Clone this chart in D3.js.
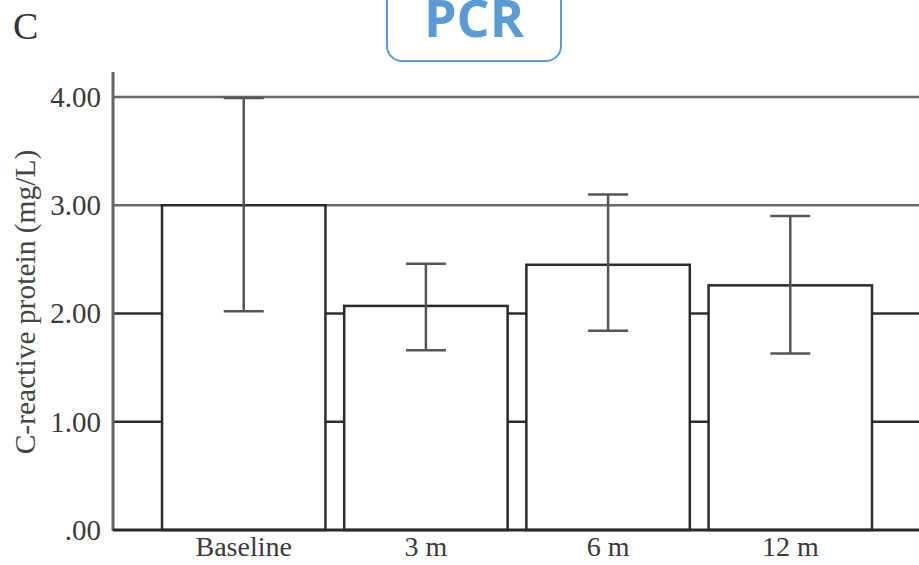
<!DOCTYPE html>
<html><head><meta charset="utf-8">
<script src="https://cdn.jsdelivr.net/npm/d3@7"></script>
<style>html,body{margin:0;padding:0;background:#fff;}svg{display:block;}</style>
</head><body>
<svg id="c" width="919" height="565"></svg>
<script>
const categories = ["Baseline", "3 m", "6 m", "12 m"];
const means = [3.00, 2.07, 2.45, 2.26];
const errHigh = [3.99, 2.46, 3.10, 2.90];
const errLow = [2.02, 1.66, 1.84, 1.63];
const yTicks = [0, 1, 2, 3, 4];
const yTickLabels = [".00", "1.00", "2.00", "3.00", "4.00"];

const svg = d3.select("#c");
const x0 = 113, yBase = 530;
const y = d3.scaleLinear().domain([0, 4]).range([yBase, 97]);
const x = d3.scaleBand().domain(categories).range([113, 921]).paddingInner(0.103).paddingOuter(0.269);
const serif = "Liberation Serif, Times New Roman, serif";

// panel letter
svg.append("text").attr("x", 13).attr("y", 39).attr("font-family", serif)
  .attr("font-size", 38).attr("fill", "#333").text("C");

// title box
svg.append("rect").attr("x", 387).attr("y", -14).attr("width", 174).attr("height", 75).attr("rx", 15)
  .attr("fill", "#fff").attr("stroke", "#5b9bd5").attr("stroke-width", 2);
svg.append("text").attr("x", 474).attr("y", 37).attr("text-anchor", "middle")
  .attr("font-family", "Open Sans, sans-serif").attr("font-weight", "bold").attr("font-size", 52)
  .attr("fill", "#5b9bd5").text("PCR");

// gridlines
svg.append("g").selectAll("line").data(yTicks.filter(d => d > 0)).join("line")
  .attr("x1", x0).attr("x2", 919).attr("y1", d => y(d)).attr("y2", d => y(d))
  .attr("stroke", d => d >= 3 ? "#6a6a6a" : "#2e2e2e").attr("stroke-width", 2.5);

// y axis via d3 axis
const yAxis = d3.axisLeft(y).tickValues(yTicks).tickFormat((d, i) => yTickLabels[i]).tickSize(0).tickPadding(12);
const ga = svg.append("g").attr("transform", `translate(${x0},0)`).call(yAxis);
ga.select(".domain").remove();
ga.selectAll("text").attr("font-family", serif).attr("font-size", 29).attr("fill", "#3a3a3a");
svg.append("line").attr("x1", x0).attr("x2", x0).attr("y1", 72).attr("y2", yBase + 1)
  .attr("stroke", "#666").attr("stroke-width", 3);

// bars
svg.append("g").selectAll("rect").data(categories).join("rect")
  .attr("x", d => x(d)).attr("width", x.bandwidth())
  .attr("y", (d, i) => y(means[i])).attr("height", (d, i) => yBase - y(means[i]))
  .attr("fill", "#fff").attr("stroke", "#2a2a2a").attr("stroke-width", 2.5);

// baseline axis
svg.append("line").attr("x1", x0).attr("x2", 919).attr("y1", yBase).attr("y2", yBase)
  .attr("stroke", "#2a2a2a").attr("stroke-width", 3);

// error bars
const eg = svg.append("g").attr("stroke", "#555").attr("stroke-width", 2.5);
categories.forEach((c, i) => {
  const cx = x(c) + x.bandwidth() / 2;
  eg.append("line").attr("x1", cx).attr("x2", cx).attr("y1", y(errHigh[i])).attr("y2", y(errLow[i]));
  eg.append("line").attr("x1", cx - 20).attr("x2", cx + 20).attr("y1", y(errHigh[i])).attr("y2", y(errHigh[i]));
  eg.append("line").attr("x1", cx - 20).attr("x2", cx + 20).attr("y1", y(errLow[i])).attr("y2", y(errLow[i]));
});

// x labels
const xAxis = d3.axisBottom(x).tickSize(0).tickPadding(6);
const gx = svg.append("g").attr("transform", `translate(0,${yBase})`).call(xAxis);
gx.select(".domain").remove();
gx.selectAll("text").attr("font-family", serif).attr("font-size", 28).attr("fill", "#3a3a3a");

// y label
svg.append("text").attr("transform", "translate(35,302) rotate(-90)").attr("text-anchor", "middle")
  .attr("font-family", serif).attr("font-size", 29.5).attr("fill", "#444")
  .text("C-reactive protein (mg/L)");
</script>
</body></html>
